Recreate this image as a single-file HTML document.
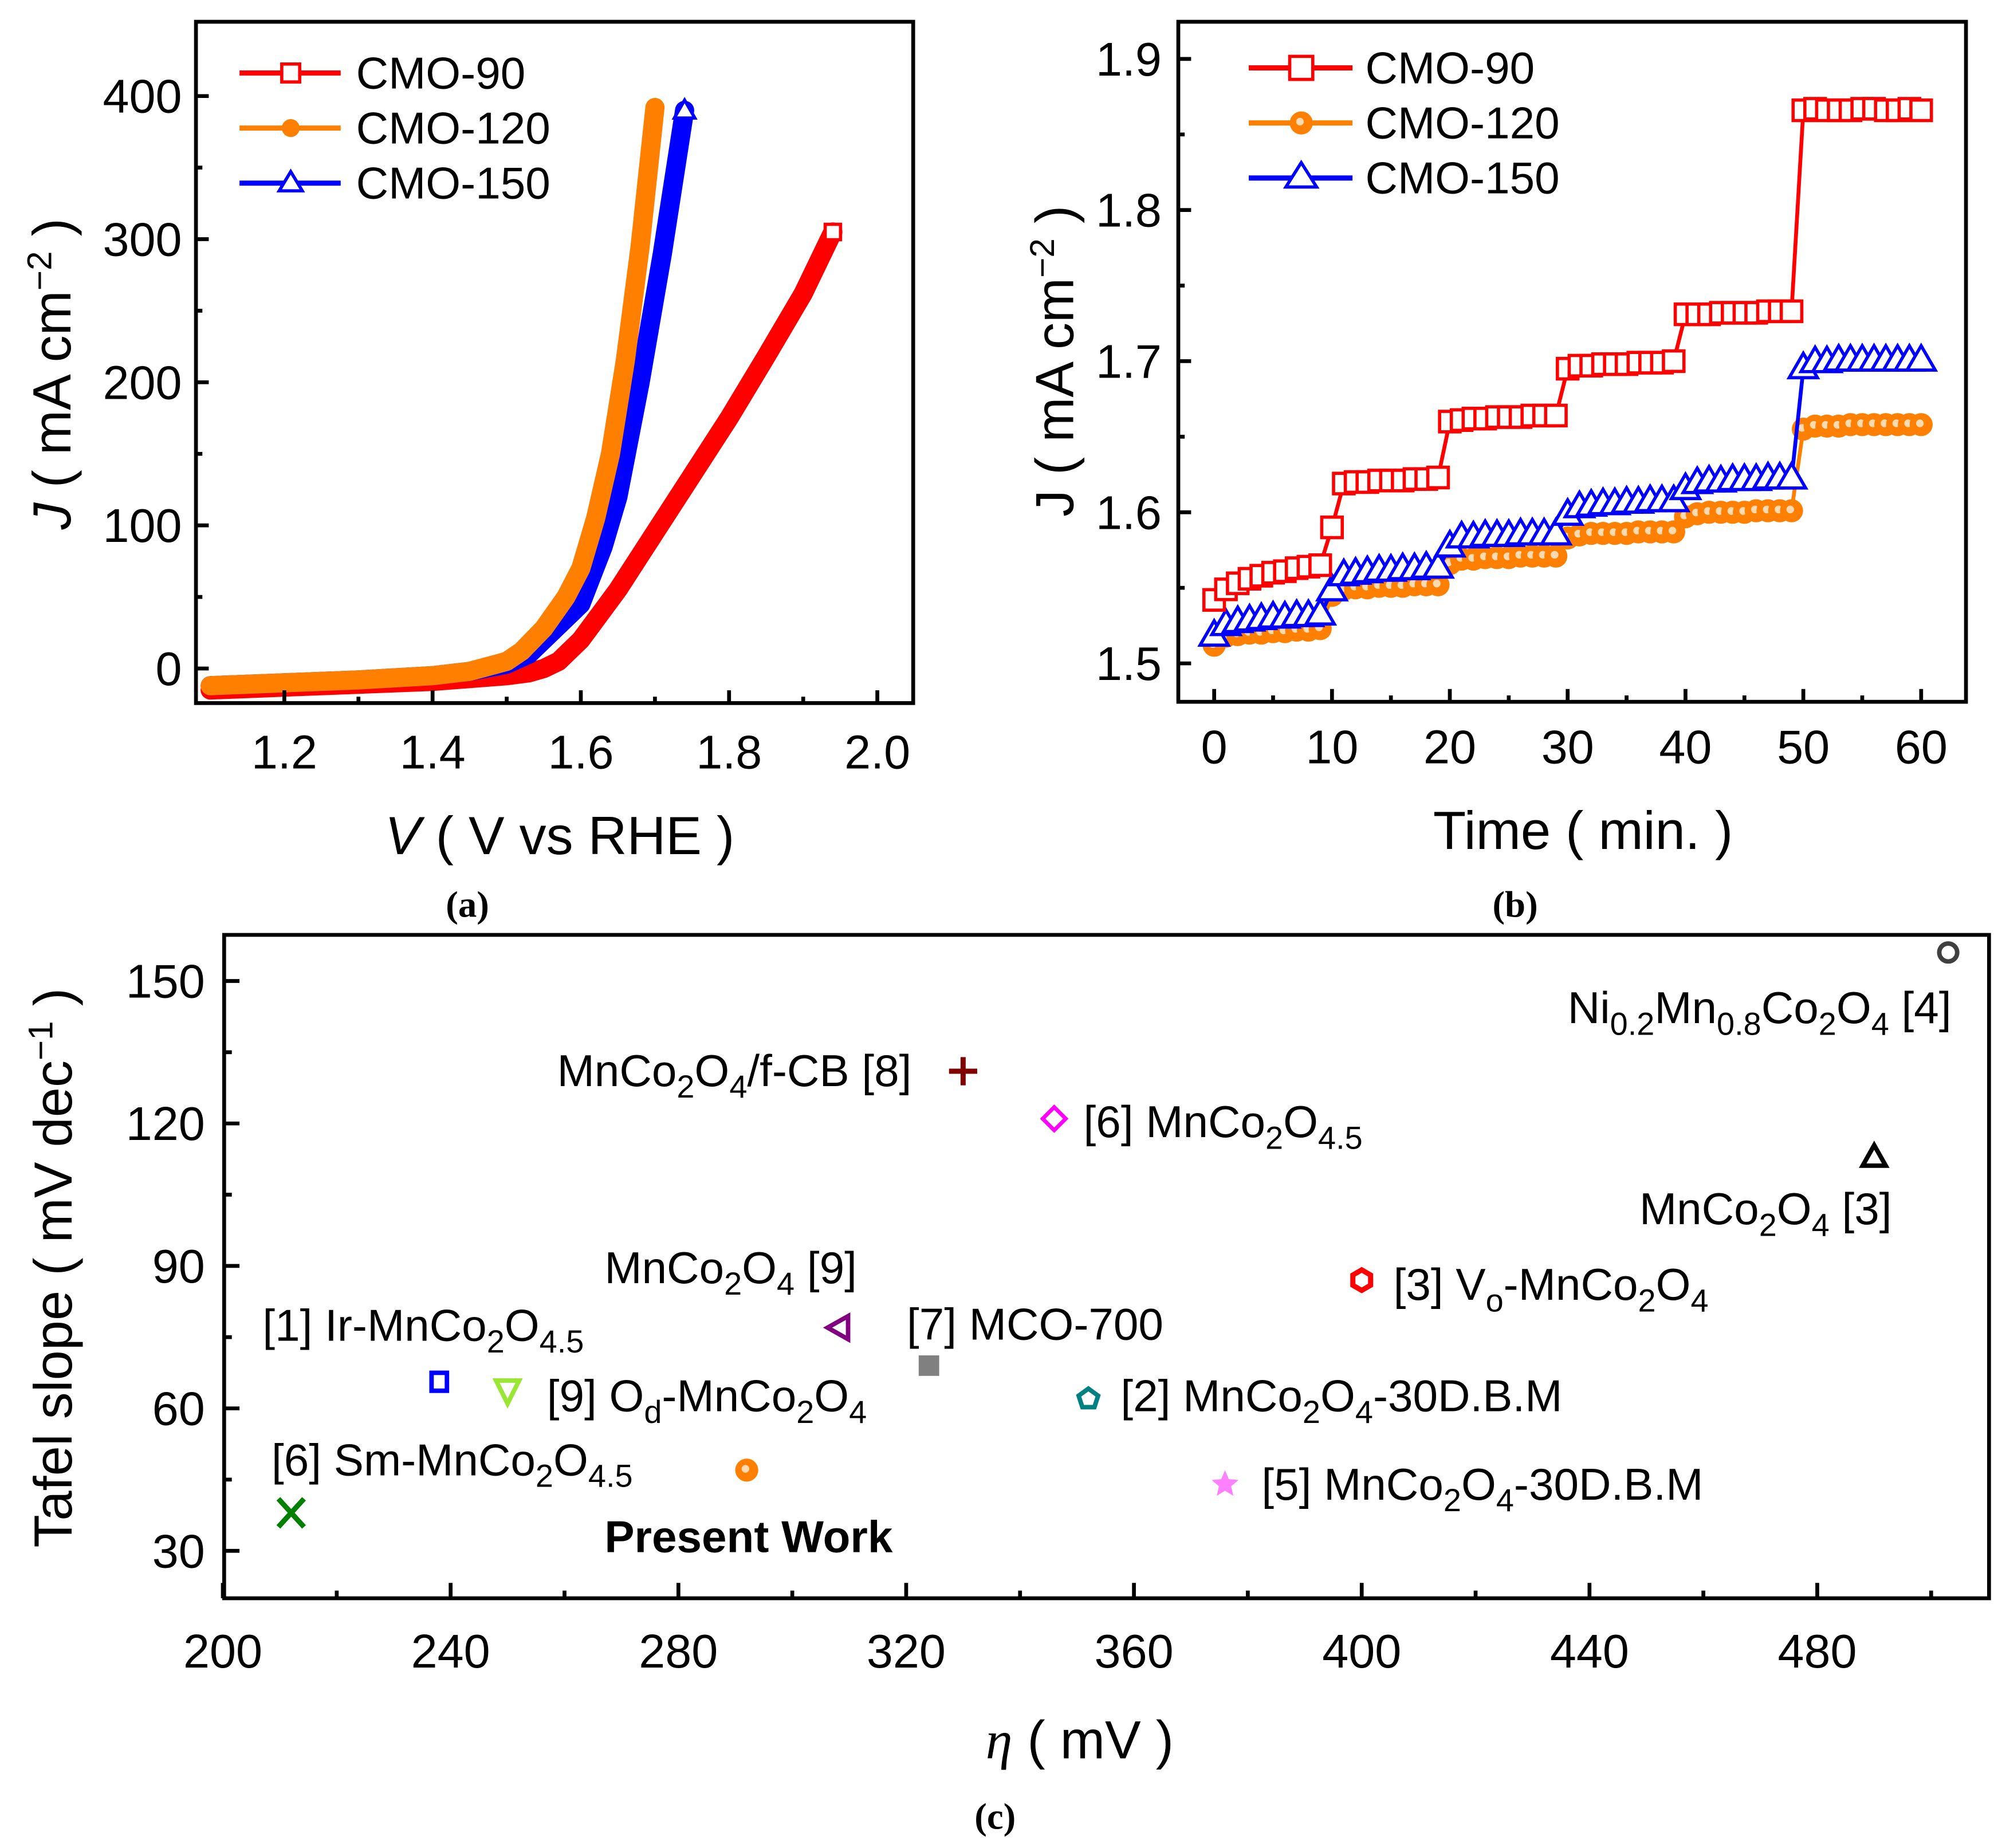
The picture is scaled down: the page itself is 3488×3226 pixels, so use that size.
<!DOCTYPE html>
<html><head><meta charset="utf-8"><style>
html,body{margin:0;padding:0;background:#fff}
svg{display:block}
text{font-family:"Liberation Sans",sans-serif;fill:#000}
</style></head><body>
<svg id="fig" xmlns="http://www.w3.org/2000/svg" width="3488" height="3226" viewBox="0 0 1560 1443" preserveAspectRatio="none">
<rect width="1560" height="1443" fill="#fff"/>
<g id="pa"></g>
<g id="pb"></g>
<g id="pc"></g>
<text x="365" y="716" text-anchor="middle" style="font-family:'Liberation Serif',serif;font-size:29px;font-weight:bold">(a)</text>
<text x="1183" y="716" text-anchor="middle" style="font-family:'Liberation Serif',serif;font-size:29px;font-weight:bold">(b)</text>
<text x="777" y="1428" text-anchor="middle" style="font-family:'Liberation Serif',serif;font-size:29px;font-weight:bold">(c)</text>
</svg>
<script>
// ---------- Panel (a) data ----------
const aV90=[1.1,1.2,1.3,1.4,1.45,1.5,1.53,1.55,1.57,1.6,1.65,1.7,1.75,1.8,1.85,1.9,1.94];
const aJ90=[-15,-13,-11,-9,-7,-5,-3,0,5,20,55,95,135,175,218,262,305];
const aV120=[1.1,1.2,1.3,1.4,1.45,1.5,1.52,1.55,1.58,1.6,1.62,1.64,1.66,1.68,1.7];
const aJ120=[-12,-10,-8,-5,-2,5,12,28,50,70,105,150,215,295,392];
const aV150=[1.1,1.2,1.3,1.4,1.45,1.5,1.53,1.56,1.6,1.63,1.65,1.68,1.71,1.74];
const aJ150=[-12,-10,-8,-5,-2,3,10,25,45,85,120,200,290,390];
const aXTicks=[1.2,1.4,1.6,1.8,2.0];
const aYTicks=[0,100,200,300,400];
// ---------- Panel (b) data ----------
const bT=[];for(let i=0;i<=60;i++)bT.push(i);
const b90=[1.542,1.549,1.553,1.556,1.558,1.560,1.561,1.563,1.564,1.565,1.590,1.619,1.620,1.620,1.621,1.621,1.621,1.622,1.622,1.623,1.660,1.661,1.662,1.662,1.663,1.663,1.663,1.664,1.664,1.664,1.695,1.697,1.697,1.698,1.698,1.698,1.699,1.699,1.699,1.700,1.731,1.731,1.731,1.732,1.732,1.732,1.732,1.733,1.733,1.733,1.866,1.867,1.866,1.866,1.866,1.867,1.867,1.866,1.866,1.867,1.866];
const b120=[1.512,1.518,1.519,1.520,1.520,1.521,1.521,1.522,1.522,1.523,1.545,1.549,1.550,1.550,1.551,1.551,1.551,1.552,1.552,1.552,1.566,1.569,1.569,1.570,1.570,1.570,1.571,1.571,1.571,1.571,1.583,1.585,1.586,1.586,1.586,1.586,1.587,1.587,1.587,1.587,1.597,1.599,1.600,1.600,1.600,1.600,1.601,1.601,1.601,1.601,1.655,1.657,1.657,1.657,1.658,1.658,1.658,1.658,1.658,1.658,1.658];
const b150=[1.518,1.525,1.527,1.528,1.529,1.530,1.530,1.531,1.531,1.532,1.548,1.558,1.559,1.560,1.561,1.561,1.562,1.562,1.563,1.563,1.577,1.583,1.583,1.584,1.584,1.584,1.585,1.585,1.585,1.585,1.598,1.603,1.604,1.605,1.605,1.606,1.606,1.607,1.607,1.607,1.615,1.619,1.620,1.620,1.621,1.621,1.621,1.622,1.622,1.622,1.695,1.699,1.699,1.700,1.700,1.700,1.700,1.700,1.700,1.700,1.700];
const bXTicks=[0,10,20,30,40,50,60];
const bYTicks=[1.5,1.6,1.7,1.8,1.9];
// ---------- Panel (c) data ----------
const cEta=[292,212,238,250,308,324,330,346,352,376,400,490,503];
const cTafel=[47,38,65.6,63.7,77,69,131,121,62,44,87,113,156];
const cXTicks=[200,240,280,320,360,400,440,480];
const cYTicks=[30,60,90,120,150];

const NS="http://www.w3.org/2000/svg";
function mk(parent,tag,attrs){const e=document.createElementNS(NS,tag);for(const k in attrs)e.setAttribute(k,attrs[k]);parent.appendChild(e);return e;}
function txt(parent,x,y,s,size,anchor){const t=mk(parent,'text',{x:x,y:y,'font-size':size,'text-anchor':anchor||'middle'});t.innerHTML=s;return t;}
const TICK=37, LEG=35, TITLE=42;

// ===== Panel A =====
const pa=document.getElementById('pa');
const ax=v=>222+(v-1.2)/0.2*115.75, ay=j=>522-j*1.1175;
function lineA(V,J,color,name){
  const p=mk(pa,'polyline',{points:V.map((v,i)=>ax(v)+','+ay(J[i])).join(' '),fill:'none',stroke:color,'stroke-width':15,'stroke-linejoin':'round','stroke-linecap':'round'});
  
  
}
lineA(aV90,aJ90,'#ff0000','line-cmo-90');
lineA(aV150,aJ150,'#0000ff','line-cmo-150');
lineA(aV120,aJ120,'#ff8000','line-cmo-120');
{let i=aV90.length-1;const m=mk(pa,'rect',{x:ax(aV90[i])-6,y:ay(aJ90[i])-6,width:12,height:12,fill:'#fff',stroke:'#f00','stroke-width':2.5});}
{let i=aV120.length-1;const m=mk(pa,'circle',{cx:ax(aV120[i]),cy:ay(aJ120[i]),r:7,fill:'#ff8000'});}
{let i=aV150.length-1;const x=ax(aV150[i]),y=ay(aJ150[i]);const m=mk(pa,'polygon',{points:`${x},${y-8} ${x-8},${y+6} ${x+8},${y+6}`,fill:'#fff',stroke:'#00f','stroke-width':2.5});}
mk(pa,'rect',{x:153,y:17,width:560,height:532,fill:'none',stroke:'#000','stroke-width':3});
aXTicks.forEach(v=>{mk(pa,'line',{x1:ax(v),x2:ax(v),y1:549,y2:539,stroke:'#000','stroke-width':3});const t=txt(pa,ax(v),600,v.toFixed(1),TICK);});
[1.3,1.5,1.7,1.9].forEach(v=>mk(pa,'line',{x1:ax(v),x2:ax(v),y1:549,y2:544,stroke:'#000','stroke-width':3}));
aYTicks.forEach(v=>{mk(pa,'line',{x1:153,x2:163,y1:ay(v),y2:ay(v),stroke:'#000','stroke-width':3});const t=txt(pa,142,ay(v)+13,String(v),TICK,'end');});
[50,150,250,350].forEach(v=>mk(pa,'line',{x1:153,x2:158,y1:ay(v),y2:ay(v),stroke:'#000','stroke-width':3}));
{const t=txt(pa,437,667,'<tspan font-style="italic">V</tspan> ( V vs RHE )',TITLE);}
{const t=txt(pa,0,0,'<tspan font-style="italic">J</tspan> ( mA cm<tspan dy="-15" font-size="27">−2</tspan><tspan dy="15"> )</tspan>',TITLE);t.setAttribute('transform','translate(55,292) rotate(-90)');}
[['CMO-90','#ff0000','sq',57],['CMO-120','#ff8000','ci',100],['CMO-150','#0000ff','tr',143]].forEach(([n,c,s,y])=>{
  const g=mk(pa,'g',{});
  mk(g,'line',{x1:187,x2:266,y1:y,y2:y,stroke:c,'stroke-width':4});
  if(s==='sq')mk(g,'rect',{x:220,y:y-7,width:14,height:14,fill:'#fff',stroke:c,'stroke-width':2.5});
  if(s==='ci')mk(g,'circle',{cx:227,cy:y,r:7,fill:c});
  if(s==='tr')mk(g,'polygon',{points:`227,${y-9} 218,${y+6} 236,${y+6}`,fill:'#fff',stroke:c,'stroke-width':2.5});
  txt(g,278,y+12,n,LEG,'start');
});

// ===== Panel B =====
const pb=document.getElementById('pb');
const bx=t=>948+t*9.2, by=v=>518-(v-1.5)*1180;
function seriesB(D,c,s,name){
  const g=mk(pb,'g',{});
  mk(g,'polyline',{points:bT.map((t,i)=>bx(t)+','+by(D[i])).join(' '),fill:'none',stroke:c,'stroke-width':3});
  bT.forEach((t,i)=>{const x=bx(t),y=by(D[i]);
    if(s==='sq')mk(g,'rect',{x:x-8,y:y-8,width:16,height:16,fill:'#fff',stroke:c,'stroke-width':2.5});
    if(s==='ci'){mk(g,'circle',{cx:x,cy:y,r:9,fill:c});mk(g,'circle',{cx:x-1,cy:y-1,r:3,fill:'#ffd9b0'});}
    if(s==='tr')mk(g,'polygon',{points:`${x},${y-12} ${x-11},${y+7} ${x+11},${y+7}`,fill:'#fff',stroke:c,'stroke-width':2.5});
  });
}
seriesB(b120,'#ff8000','ci','series-cmo-120');
seriesB(b150,'#0000ff','tr','series-cmo-150');
seriesB(b90,'#ff0000','sq','series-cmo-90');
mk(pb,'rect',{x:920,y:17,width:615,height:531,fill:'none',stroke:'#000','stroke-width':3});
bXTicks.forEach(v=>{mk(pb,'line',{x1:bx(v),x2:bx(v),y1:548,y2:538,stroke:'#000','stroke-width':3});const t=txt(pb,bx(v),596,String(v),TICK);});
[5,15,25,35,45,55].forEach(v=>mk(pb,'line',{x1:bx(v),x2:bx(v),y1:548,y2:543,stroke:'#000','stroke-width':3}));
bYTicks.forEach(v=>{mk(pb,'line',{x1:920,x2:930,y1:by(v),y2:by(v),stroke:'#000','stroke-width':3});const t=txt(pb,907,by(v)+13,v.toFixed(1),TICK,'end');});
[1.55,1.65,1.75,1.85].forEach(v=>mk(pb,'line',{x1:920,x2:925,y1:by(v),y2:by(v),stroke:'#000','stroke-width':3}));
{const t=txt(pb,1236,663,'Time ( min. )',TITLE);}
{const t=txt(pb,0,0,'J ( mA cm<tspan dy="-15" font-size="27">−2</tspan><tspan dy="15"> )</tspan>',TITLE);t.setAttribute('transform','translate(838,282) rotate(-90)');}
[['CMO-90','#ff0000','sq',53],['CMO-120','#ff8000','ci',96],['CMO-150','#0000ff','tr',139]].forEach(([n,c,s,y])=>{
  const g=mk(pb,'g',{});
  mk(g,'line',{x1:975,x2:1056,y1:y,y2:y,stroke:c,'stroke-width':4});
  if(s==='sq')mk(g,'rect',{x:1007,y:y-9,width:18,height:18,fill:'#fff',stroke:c,'stroke-width':2.5});
  if(s==='ci'){mk(g,'circle',{cx:1016,cy:y,r:9,fill:c});mk(g,'circle',{cx:1015,cy:y-1,r:3,fill:'#ffd9b0'});}
  if(s==='tr')mk(g,'polygon',{points:`1016,${y-12} 1004,${y+7} 1028,${y+7}`,fill:'#fff',stroke:c,'stroke-width':2.5});
  txt(g,1066,y+12,n,LEG,'start');
});

// ===== Panel C =====
const pc=document.getElementById('pc');
const cx=v=>174+(v-200)*4.446, cy=v=>766-(v-150)*3.708;
mk(pc,'rect',{x:175,y:730,width:1378,height:518,fill:'none',stroke:'#000','stroke-width':3});
cXTicks.forEach(v=>{mk(pc,'line',{x1:cx(v),x2:cx(v),y1:1248,y2:1236,stroke:'#000','stroke-width':3});const t=txt(pc,cx(v),1302,String(v),TICK);});
[220,260,300,340,380,420,460,500].forEach(v=>mk(pc,'line',{x1:cx(v),x2:cx(v),y1:1248,y2:1242,stroke:'#000','stroke-width':3}));
cYTicks.forEach(v=>{mk(pc,'line',{x1:175,x2:187,y1:cy(v),y2:cy(v),stroke:'#000','stroke-width':3});const t=txt(pc,160,cy(v)+13,String(v),TICK,'end');});
[45,75,105,135].forEach(v=>mk(pc,'line',{x1:175,x2:181,y1:cy(v),y2:cy(v),stroke:'#000','stroke-width':3}));
{const t=txt(pc,843,1373,'<tspan font-family="Liberation Serif" font-style="italic">η</tspan> ( mV )',TITLE);}
{const t=txt(pc,0,0,'Tafel slope ( mV dec<tspan dy="-15" font-size="27">−1</tspan><tspan dy="15"> )</tspan>',TITLE);t.setAttribute('transform','translate(56,990) rotate(-90)');}
const shapes=['circle','x','square','tridown','trileft','fsquare','plus','diamond','pentagon','star','hexagon','triup','ring'];
const colors=['#ff8000','#008000','#0000ff','#99e633','#800080','#808080','#800000','#ff00ff','#008080','#ff80ff','#ff0000','#000000','#404040'];
const names=['point-present-work','point-sm-mnco2o45','point-ir-mnco2o45','point-od-mnco2o4','point-mnco2o4-9','point-mco-700','point-mnco2o4-fcb','point-mnco2o45-6','point-mnco2o4-30dbm-2','point-mnco2o4-30dbm-5','point-vo-mnco2o4','point-mnco2o4-3','point-ni-mnco2o4'];
cEta.forEach((e,i)=>{
  const x=cx(e),y=cy(cTafel[i]),c=colors[i];
  const g=mk(pc,'g',{});
  
  
  const s=shapes[i];
  if(s==='circle'){mk(g,'circle',{cx:x,cy:y,r:9,fill:c});mk(g,'circle',{cx:x-1,cy:y-1,r:3,fill:'#ffd9b0'});}
  if(s==='x'){mk(g,'path',{d:`M${x-10},${y-11}L${x+10},${y+11}M${x+10},${y-11}L${x-10},${y+11}`,stroke:c,'stroke-width':4});}
  if(s==='square')mk(g,'rect',{x:x-6,y:y-7,width:12,height:14,fill:'#fff',stroke:c,'stroke-width':3.5});
  if(s==='tridown')mk(g,'polygon',{points:`${x-9},${y-8} ${x+9},${y-8} ${x},${y+10}`,fill:'#fff',stroke:c,'stroke-width':3.5});
  if(s==='trileft')mk(g,'polygon',{points:`${x+8},${y-9} ${x+8},${y+9} ${x-8},${y}`,fill:'#fff',stroke:c,'stroke-width':3.5});
  if(s==='fsquare')mk(g,'rect',{x:x-8,y:y-8,width:16,height:16,fill:c});
  if(s==='plus')mk(g,'path',{d:`M${x-11},${y}L${x+11},${y}M${x},${y-11}L${x},${y+11}`,stroke:c,'stroke-width':4});
  if(s==='diamond')mk(g,'polygon',{points:`${x},${y-9} ${x+9},${y} ${x},${y+9} ${x-9},${y}`,fill:'#fff',stroke:c,'stroke-width':3});
  if(s==='pentagon'){let p=[];for(let k=0;k<5;k++){const a=-Math.PI/2+k*2*Math.PI/5;p.push((x+8*Math.cos(a))+','+(y+8*Math.sin(a)));}mk(g,'polygon',{points:p.join(' '),fill:'#fff',stroke:c,'stroke-width':3.5});}
  if(s==='star'){let p=[];for(let k=0;k<10;k++){const a=-Math.PI/2+k*Math.PI/5,r=k%2?5:11;p.push((x+r*Math.cos(a))+','+(y+r*Math.sin(a)));}mk(g,'polygon',{points:p.join(' '),fill:c});}
  if(s==='hexagon'){let p=[];for(let k=0;k<6;k++){const a=k*Math.PI/3+Math.PI/6;p.push((x+8*Math.cos(a))+','+(y+8*Math.sin(a)));}mk(g,'polygon',{points:p.join(' '),fill:'#fff',stroke:c,'stroke-width':4});}
  if(s==='triup')mk(g,'polygon',{points:`${x},${y-9} ${x-9},${y+7} ${x+9},${y+7}`,fill:'#fff',stroke:c,'stroke-width':3.5});
  if(s==='ring')mk(g,'circle',{cx:x,cy:y,r:7,fill:'#fff',stroke:c,'stroke-width':3.5});
});
const sub=(s)=>`<tspan dy="9" font-size="25">${s}</tspan><tspan dy="-9">`;
const labels=[
 [472,1212,'<tspan font-weight="bold">Present Work</tspan>','label-present-work'],
 [212,1152,`[6] Sm-MnCo${sub('2')}O</tspan>${sub('4.5')}</tspan>`,'label-sm'],
 [205,1047,`[1] Ir-MnCo${sub('2')}O</tspan>${sub('4.5')}</tspan>`,'label-ir'],
 [427,1102,`[9] O${sub('d')}-MnCo</tspan>${sub('2')}O</tspan>${sub('4')}</tspan>`,'label-od'],
 [472,1002,`MnCo${sub('2')}O</tspan>${sub('4')} [9]</tspan>`,'label-mnco2o4-9'],
 [708,1046,'[7] MCO-700','label-mco-700'],
 [435,848,`MnCo${sub('2')}O</tspan>${sub('4')}/f-CB [8]</tspan>`,'label-fcb'],
 [846,888,`[6] MnCo${sub('2')}O</tspan>${sub('4.5')}</tspan>`,'label-mnco2o45-6'],
 [875,1102,`[2] MnCo${sub('2')}O</tspan>${sub('4')}-30D.B.M</tspan>`,'label-30dbm-2'],
 [985,1171,`[5] MnCo${sub('2')}O</tspan>${sub('4')}-30D.B.M</tspan>`,'label-30dbm-5'],
 [1088,1015,`[3] V${sub('o')}-MnCo</tspan>${sub('2')}O</tspan>${sub('4')}</tspan>`,'label-vo'],
 [1280,956,`MnCo${sub('2')}O</tspan>${sub('4')} [3]</tspan>`,'label-mnco2o4-3'],
 [1224,799,`Ni${sub('0.2')}Mn</tspan>${sub('0.8')}Co</tspan>${sub('2')}O</tspan>${sub('4')} [4]</tspan>`,'label-ni']
];
labels.forEach(([x,y,s,n])=>{const t=txt(pc,x,y,s,35,'start');});
</script>
</body></html>
